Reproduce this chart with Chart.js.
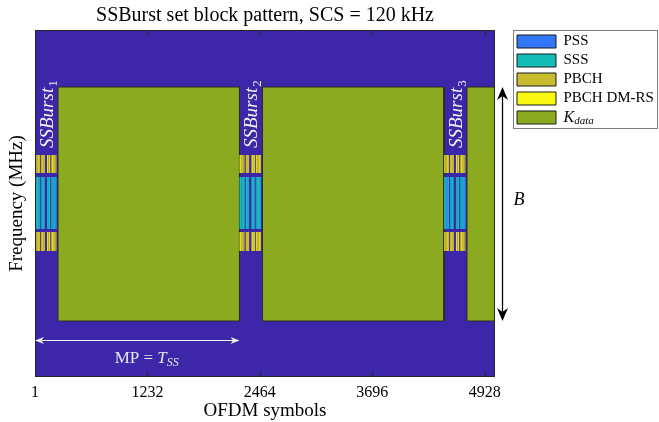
<!DOCTYPE html>
<html>
<head>
<meta charset="utf-8">
<script src="https://cdn.jsdelivr.net/npm/chart.js@4.4.0/dist/chart.umd.min.js"></script>
<style>
  html, body { margin: 0; padding: 0; background: #fff; }
  #wrap { width: 659px; height: 422px; }
</style>
</head>
<body>
<div id="wrap"><canvas id="ssbChart" width="659" height="422"></canvas></div>
<script>
// axis ranges: OFDM symbols on x, frequency bins on y
const xMin = 1;
const xMax = 5040;
const freqMin = 0;
const freqMax = 347;
const xTicks = [1, 1232, 2464, 3696, 4928];

// SS burst start symbols (period 2240 symbols = 20 ms)
const burstStarts = [1, 2241, 4481];
const burstNames = ['1', '2', '3'];
// data blocks between the bursts, [first, last] symbol
const dataBlocks = [[253, 2241], [2493, 4481], [4733, 5040]];
const dataBand = [56, 290];

// inside one burst, as symbol offsets from the burst start
const ssbGroups = [[0, 57], [68, 106], [131, 167], [178, 236]];
const pssStripes = [[6, 13], [22, 30], [39, 48], [74, 81], [90, 98], [140, 147], [156, 163], [186, 193], [204, 212], [224, 231]];
const dmrsStripes = [[4, 11], [30, 37], [74, 81], [96, 103], [136, 143], [158, 165], [186, 193], [212, 219]];
const pbchGaps = [[20, 26], [46, 52], [86, 92], [150, 155], [200, 206], [226, 231]];
const pbchBands = [[204, 222], [126, 145]];
const syncBand = [148, 200];

// annotations
const mpArrow = [1, 2241];
const mpY = 37;
const mpLabel = [874, 18];
const burstLabelOffset = 197;
const burstLabelY = 229;

const legendNames = ['PSS', 'SSS', 'PBCH', 'PBCH DM-RS', 'K_data'];
const legendColors = ['#3277F7', '#14BDB5', '#C9BB2E', '#F8F811', '#8BAA1F'];
const bgColor = '#3E26A8';
const gapColor = 'rgba(62,38,168,0.55)';

const serif = "'Liberation Serif', 'DejaVu Serif', serif";

// closed rectangle outline, followed by a gap so every rectangle is its own segment
function rect(x0, x1, y0, y1) {
  return [
    { x: x0, y: y0 }, { x: x0, y: y1 }, { x: x1, y: y1 },
    { x: x1, y: y0 }, { x: x0, y: y0 }, { x: x0, y: null }
  ];
}

const bgPts = rect(xMin, xMax, freqMin, freqMax);
const dataPts = dataBlocks.flatMap(b => rect(b[0], b[1], dataBand[0], dataBand[1]));
const pbchPts = burstStarts.flatMap(s => ssbGroups.flatMap(g =>
  pbchBands.flatMap(f => rect(s + g[0], s + g[1], f[0], f[1]))));
const gapPts = burstStarts.flatMap(s => pbchGaps.flatMap(g =>
  pbchBands.flatMap(f => rect(s + g[0], s + g[1], f[0], f[1]))));
const dmrsPts = burstStarts.flatMap(s => dmrsStripes.flatMap(g =>
  pbchBands.flatMap(f => rect(s + g[0], s + g[1], f[0], f[1]))));
const sssPts = burstStarts.flatMap(s => ssbGroups.flatMap(g =>
  rect(s + g[0], s + g[1], syncBand[0], syncBand[1])));
const pssPts = burstStarts.flatMap(s => pssStripes.flatMap(g =>
  rect(s + g[0], s + g[1], syncBand[0], syncBand[1])));

function shape(label, pts, color, order, border) {
  return {
    label: label,
    data: pts,
    showLine: true,
    fill: 'shape',
    backgroundColor: color,
    borderColor: border ? border : 'rgba(0,0,0,0)',
    borderWidth: border ? 1 : 0,
    pointRadius: 0,
    pointHoverRadius: 0,
    spanGaps: false,
    order: order
  };
}

function arrowHead(ctx, tx, ty, dx, dy, len, half, color) {
  const nx = -dy, ny = dx;
  ctx.fillStyle = color;
  ctx.beginPath();
  ctx.moveTo(tx, ty);
  ctx.lineTo(tx - dx * len + nx * half, ty - dy * len + ny * half);
  ctx.lineTo(tx - dx * len * 0.7, ty - dy * len * 0.7);
  ctx.lineTo(tx - dx * len - nx * half, ty - dy * len - ny * half);
  ctx.closePath();
  ctx.fill();
}

const decor = {
  id: 'decor',
  beforeLayout(chart) {
    const lg = chart.legend;
    if (lg && !lg._fixedWidth) {
      const fit = lg.fit.bind(lg);
      lg.fit = function () { fit(); this.width = 146; };
      lg._fixedWidth = true;
    }
  },
  afterDatasetsDraw(chart) {
    const { ctx, chartArea: a, scales: { x, y } } = chart;
    ctx.save();

    // box and inward ticks
    ctx.strokeStyle = '#262626';
    ctx.lineWidth = 1;
    ctx.strokeRect(a.left + 0.5, a.top + 0.5, a.right - a.left - 1, a.bottom - a.top - 1);
    ctx.beginPath();
    xTicks.forEach(v => {
      const px = Math.round(x.getPixelForValue(v)) + 0.5;
      ctx.moveTo(px, a.bottom); ctx.lineTo(px, a.bottom - 5);
      ctx.moveTo(px, a.top); ctx.lineTo(px, a.top + 5);
    });
    ctx.stroke();

    // SSBurst labels
    ctx.fillStyle = '#F2F2F2';
    burstStarts.forEach((s, i) => {
      ctx.save();
      ctx.translate(x.getPixelForValue(s + burstLabelOffset), y.getPixelForValue(burstLabelY));
      ctx.rotate(-Math.PI / 2);
      ctx.textAlign = 'left';
      ctx.textBaseline = 'alphabetic';
      ctx.font = 'italic 19px ' + serif;
      ctx.fillText('SSBurst', 0, 0);
      const w = ctx.measureText('SSBurst').width;
      ctx.font = '13px ' + serif;
      ctx.fillText(burstNames[i], w + 1, 4);
      ctx.restore();
    });

    // MP = T_SS arrow
    const mx0 = x.getPixelForValue(mpArrow[0]);
    const mx1 = x.getPixelForValue(mpArrow[1]);
    const my = Math.round(y.getPixelForValue(mpY)) + 0.5;
    ctx.strokeStyle = '#F2F2F2';
    ctx.beginPath();
    ctx.moveTo(mx0 + 4, my); ctx.lineTo(mx1 - 4, my);
    ctx.stroke();
    arrowHead(ctx, mx0, my, -1, 0, 9, 3.5, '#F2F2F2');
    arrowHead(ctx, mx1, my, 1, 0, 9, 3.5, '#F2F2F2');

    let tx = x.getPixelForValue(mpLabel[0]);
    const ty = y.getPixelForValue(mpLabel[1]);
    ctx.textBaseline = 'middle';
    ctx.textAlign = 'left';
    ctx.fillStyle = '#E6E6F0';
    ctx.font = '17px ' + serif;
    ctx.fillText('MP = ', tx, ty);
    tx += ctx.measureText('MP = ').width;
    ctx.font = 'italic 17px ' + serif;
    ctx.fillText('T', tx, ty);
    tx += ctx.measureText('T').width;
    ctx.font = 'italic 12px ' + serif;
    ctx.fillText('SS', tx, ty + 4);

    // bandwidth arrow B
    const bx = Math.round(a.right + 7) + 0.5;
    const by0 = y.getPixelForValue(dataBand[1]);
    const by1 = y.getPixelForValue(dataBand[0]);
    ctx.strokeStyle = '#000';
    ctx.lineWidth = 1.3;
    ctx.beginPath();
    ctx.moveTo(bx, by0 + 6); ctx.lineTo(bx, by1 - 6);
    ctx.stroke();
    arrowHead(ctx, bx, by0, 0, -1, 13, 5.5, '#000');
    arrowHead(ctx, bx, by1, 0, 1, 13, 5.5, '#000');
    ctx.fillStyle = '#000';
    ctx.font = 'italic 18px ' + serif;
    ctx.textAlign = 'center';
    ctx.fillText('B', a.right + 24, y.getPixelForValue((dataBand[0] + dataBand[1]) / 2 + 4));
    ctx.restore();
  },
  afterDraw(chart) {
    const lg = chart.legend;
    if (!lg || !lg.legendHitBoxes.length) return;
    const { ctx } = chart;
    const boxes = lg.legendHitBoxes;
    const last = boxes[boxes.length - 1];
    ctx.save();
    ctx.strokeStyle = '#7f7f7f';
    ctx.lineWidth = 1;
    ctx.strokeRect(lg.left + 0.5, lg.top + 0.5, lg.width - 2, last.top + last.height + 3 - lg.top);
    // K_data label
    const hb = boxes[4];
    let tx = hb.left + 39 + 7.5;
    const ty = hb.top + hb.height / 2;
    ctx.fillStyle = '#000';
    ctx.textBaseline = 'middle';
    ctx.font = 'italic 16px ' + serif;
    ctx.fillText('K', tx, ty);
    tx += ctx.measureText('K').width;
    ctx.font = 'italic 11px ' + serif;
    ctx.fillText('data', tx, ty + 4);
    ctx.restore();
  }
};

Chart.defaults.color = '#000';

new Chart(document.getElementById('ssbChart'), {
  type: 'scatter',
  data: {
    datasets: [
      shape('background', bgPts, bgColor, 10),
      shape('K_data', dataPts, legendColors[4], 7, '#2b2b2b'),
      shape('PBCH', pbchPts, legendColors[2], 6),
      shape('PBCH gaps', gapPts, gapColor, 5),
      shape('PBCH DM-RS', dmrsPts, legendColors[3], 4),
      shape('SSS', sssPts, legendColors[1], 3),
      shape('PSS', pssPts, legendColors[0], 2)
    ]
  },
  options: {
    responsive: false,
    animation: false,
    events: [],
    layout: { padding: { top: 0, right: 0, bottom: 0, left: 0 } },
    plugins: {
      tooltip: { enabled: false },
      title: {
        display: true,
        text: 'SSBurst set block pattern, SCS = 120 kHz',
        fullSize: false,
        color: '#000',
        font: { family: serif, size: 20, weight: 'normal' },
        padding: { top: 4, bottom: 2 }
      },
      legend: {
        display: true,
        position: 'right',
        align: 'start',
        fullSize: false,
        onClick: null,
        labels: {
          boxWidth: 39,
          boxHeight: 13,
          padding: 4,
          color: '#000',
          font: { family: serif, size: 15 },
          generateLabels: () => legendNames.map((name, i) => ({
            text: i === 4 ? '' : name,
            fillStyle: legendColors[i],
            strokeStyle: '#1a1a1a',
            lineWidth: 1,
            hidden: false,
            datasetIndex: [6, 5, 2, 4, 1][i]
          }))
        }
      }
    },
    scales: {
      x: {
        type: 'linear',
        position: 'bottom',
        min: xMin,
        max: xMax,
        afterBuildTicks: s => { s.ticks = xTicks.map(v => ({ value: v })); },
        afterFit: s => { s.height = 45; },
        grid: { display: false, drawTicks: false },
        border: { display: false },
        ticks: {
          autoSkip: false,
          maxRotation: 0,
          padding: 6,
          color: '#000',
          font: { family: serif, size: 16 },
          callback: v => String(v)
        },
        title: {
          display: true,
          text: 'OFDM symbols',
          color: '#000',
          font: { family: serif, size: 19 },
          padding: { top: 0, bottom: 0 }
        }
      },
      y: {
        type: 'linear',
        position: 'left',
        min: freqMin,
        max: freqMax,
        afterFit: s => { s.width = 35; },
        grid: { display: false, drawTicks: false },
        border: { display: false },
        ticks: { display: false },
        title: {
          display: true,
          text: 'Frequency (MHz)',
          color: '#000',
          font: { family: serif, size: 19 },
          padding: { top: 6, bottom: 0 }
        }
      },
      y2: {
        type: 'linear',
        position: 'right',
        display: true,
        afterFit: s => { s.width = 18; },
        grid: { display: false, drawTicks: false },
        border: { display: false },
        ticks: { display: false }
      }
    }
  },
  plugins: [decor]
});
</script>
</body>
</html>
